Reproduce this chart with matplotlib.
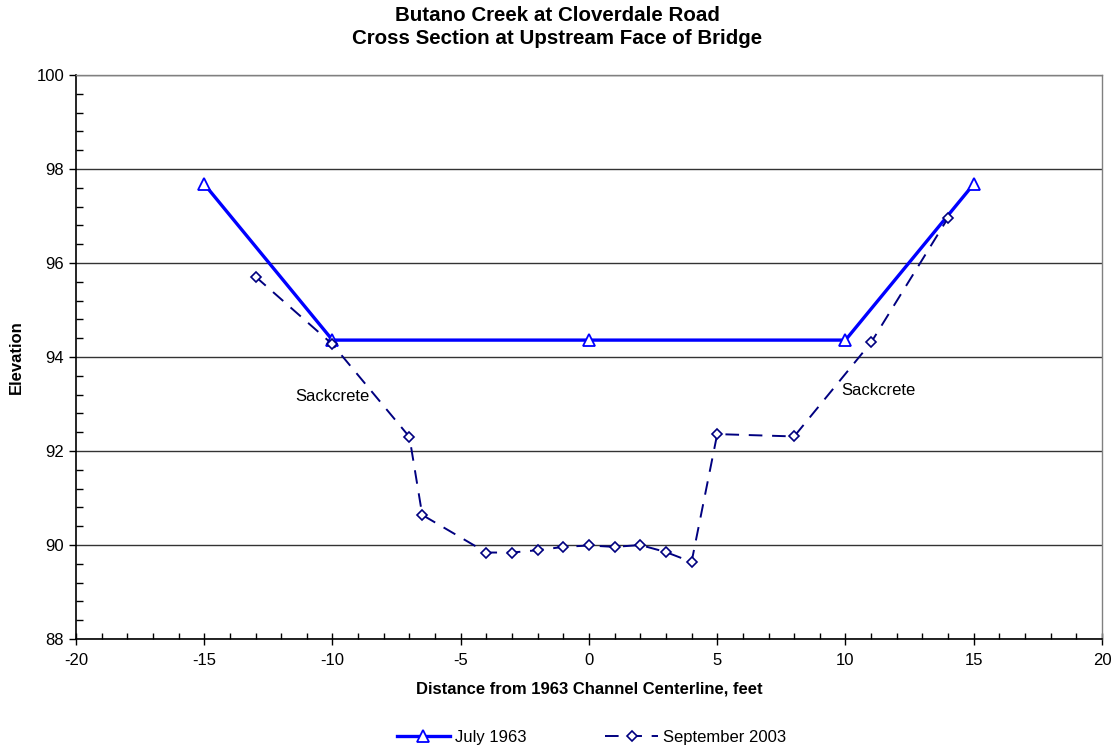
import matplotlib
matplotlib.use("Agg")
import matplotlib.pyplot as plt
from matplotlib.ticker import MultipleLocator

plt.rcParams['font.family'] = ['Liberation Sans', 'DejaVu Sans']
plt.rcParams['axes.unicode_minus'] = False

# survey data
x_1963 = [-15, -10, 0, 10, 15]
elev_1963 = [97.68, 94.36, 94.36, 94.36, 97.68]

x_2003 = [-13, -10, -7, -6.5, -4, -3, -2, -1, 0, 1, 2, 3, 4, 5, 8, 11, 14]
elev_2003 = [95.71, 94.27, 92.30, 90.64, 89.84, 89.84, 89.89, 89.96, 89.99,
             89.96, 90.0, 89.85, 89.64, 92.36, 92.31, 94.31, 96.96]

notes = ['Sackcrete', 'Sackcrete']
note_x = [-10.0, 11.3]
note_y = [93.17, 93.28]

fig = plt.figure(figsize=(11.14, 7.48), dpi=100)
ax = fig.add_axes([0.0682, 0.1457, 0.9210, 0.7540])

ax.plot(x_1963, elev_1963, color='#0000FF', lw=2.4, marker='^', ms=9,
        mfc='white', mec='#0000FF', mew=1.3, label='July 1963', zorder=3)
ax.plot(x_2003, elev_2003, color='#000080', lw=1.4, ls=(0, (7, 5)), marker='D',
        ms=5, mfc='white', mec='#000080', mew=1.2, label='September 2003', zorder=4)

for t, tx, ty in zip(notes, note_x, note_y):
    ax.text(tx, ty, t, ha='center', va='center', fontsize=12)

ax.set_xlim(-20, 20)
ax.set_ylim(88, 100)
ax.xaxis.set_major_locator(MultipleLocator(5))
ax.xaxis.set_minor_locator(MultipleLocator(1))
ax.yaxis.set_major_locator(MultipleLocator(2))
ax.yaxis.set_minor_locator(MultipleLocator(0.4))
ax.tick_params(axis='x', which='major', direction='inout', length=8, width=1, labelsize=12, pad=6)
ax.tick_params(axis='x', which='minor', direction='in', length=4, width=1)
ax.tick_params(axis='y', which='major', direction='out', length=5, width=1, labelsize=12)
ax.tick_params(axis='y', which='minor', direction='in', length=5, width=1)

ax.grid(axis='y', which='major', color='#333333', lw=1)
for s in ['left', 'bottom']:
    ax.spines[s].set_color('black')
    ax.spines[s].set_linewidth(1.2)
for s in ['top', 'right']:
    ax.spines[s].set_color('#808080')
    ax.spines[s].set_linewidth(1)

ax.set_xlabel('Distance from 1963 Channel Centerline, feet', fontsize=12,
              fontweight='bold', labelpad=10)
ax.set_ylabel('Elevation', fontsize=12, fontweight='bold', labelpad=9)

fig.suptitle('Butano Creek at Cloverdale Road\nCross Section at Upstream Face of Bridge',
             x=0.5, y=0.992, fontsize=14.8, fontweight='bold', linespacing=1.25)

fig.legend(loc='center', bbox_to_anchor=(0.531, 0.0147), ncol=2, frameon=False,
           fontsize=12, handlelength=3.2, columnspacing=4.7, handletextpad=0.3)

fig.savefig('out.png', dpi=100)
